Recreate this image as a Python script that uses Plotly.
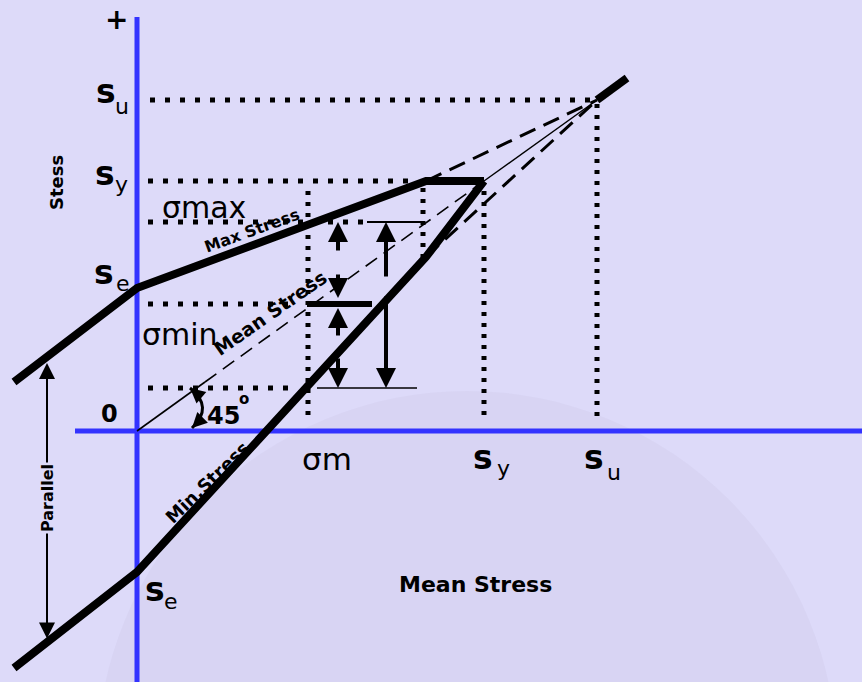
import plotly.graph_objects as go

# ---- Modified Goodman diagram: values in drawing units ----
# Stress-axis (vertical) levels
S_U = 331          # ultimate strength
S_Y = 250          # yield strength
S_E = 143          # endurance limit (max-stress line intercept)
S_E_MIN = -141     # endurance limit (min-stress line intercept)
SIG_MAX = 209
SIG_MEAN = 127
SIG_MIN = 43
MIN_KNEE_S = 174   # where the min-stress line bends
EXT_MAX_S = 49     # left end of the max-stress extension
EXT_MIN_S = -237   # left end of the min-stress extension
TAIL_S = 353       # end of the line beyond S_u

# Mean-stress (horizontal) positions
SU_M = 460
SY_M = 347
SIG_M = 171
KNEE_M = 289       # where max line meets the yield cap
EXT_M = -123
TAIL_M = 490
MEAN_SOLID_END = 68
AMP_SMALL_M = 201  # small amplitude arrows
AMP_BIG_M = 249    # large range arrows

X_RANGE = [-137, 725]
Y_RANGE = [-251, 431]

BG = "#dddaf9"
BLUE = "#3333ff"
FONT = "DejaVu Sans"

fig = go.Figure()


def seg(xs, ys, width, dash="solid", color="black"):
    fig.add_trace(go.Scatter(x=xs, y=ys, mode="lines", hoverinfo="skip",
                             line=dict(color=color, width=width, dash=dash)))


H_DOT = "5px,10px"
V_DOT = "4px,7px"

# faint globe in the background
fig.add_shape(type="circle", xref="x", yref="y", layer="below",
              x0=-40, x1=700, y0=-700, y1=40, line=dict(width=0),
              fillcolor="rgba(150,148,175,0.07)")

# axes
seg([0, 0], [Y_RANGE[0], 414], 5, color=BLUE)
seg([-62, X_RANGE[1]], [0, 0], 5, color=BLUE)

# dotted guides (horizontal)
seg([13, SU_M - 6], [S_U, S_U], 5, H_DOT)
seg([11, KNEE_M - 17], [S_Y, S_Y], 5, H_DOT)
seg([11, 226], [SIG_MAX, SIG_MAX], 5, H_DOT)
seg([11, SIG_M - 11], [SIG_MEAN, SIG_MEAN], 5, H_DOT)
seg([11, SIG_M - 11], [SIG_MIN, SIG_MIN], 5, H_DOT)
# dotted guides (vertical)
seg([SU_M, SU_M], [S_U - 4, 12], 5, V_DOT)
seg([SY_M, SY_M], [S_Y - 10, 11], 5, V_DOT)
seg([SIG_M, SIG_M], [S_Y - 10, 14], 5, V_DOT)
seg([KNEE_M - 3, KNEE_M - 3], [S_Y - 7, MIN_KNEE_S], 5, V_DOT)

# mean-stress line through the origin
seg([0, MEAN_SOLID_END], [0, MEAN_SOLID_END * S_Y / SY_M], 1.6)
seg([MEAN_SOLID_END, SY_M], [MEAN_SOLID_END * S_Y / SY_M, S_Y], 1.6, "14px,8px")
seg([SY_M, SU_M], [S_Y, S_U], 1.4)

# Goodman dashed lines towards S_u
seg([KNEE_M, SU_M], [S_Y, S_U], 3, "17px,9px")
seg([KNEE_M, SU_M], [MIN_KNEE_S, S_U], 3, "17px,9px")

# thin level marks for sigma max / min
seg([230, KNEE_M - 3], [SIG_MAX, SIG_MAX], 2)
seg([180, 280], [SIG_MIN, SIG_MIN], 1.4)
# thick mean level mark
seg([SIG_M - 1, 235], [SIG_MEAN, SIG_MEAN], 6)

# max / min stress boundary lines
seg([EXT_M, 0, KNEE_M, SY_M], [EXT_MAX_S, S_E, S_Y, S_Y], 8)
seg([EXT_M, 0, KNEE_M, SY_M], [EXT_MIN_S, S_E_MIN, MIN_KNEE_S, S_Y], 8)
seg([SU_M, TAIL_M], [S_U, TAIL_S], 8)

ann = []


def arrow(x, y, ax, ay, width=4, size=1.0, side="end", head=2):
    ann.append(dict(x=x, y=y, ax=ax, ay=ay, xref="x", yref="y", axref="x", ayref="y",
                    text="", showarrow=True, arrowhead=head, startarrowhead=head,
                    arrowsize=size, startarrowsize=size,
                    arrowwidth=width, arrowcolor="black", arrowside=side))


# amplitude arrows
arrow(AMP_SMALL_M, SIG_MAX, AMP_SMALL_M, SIG_MAX - 30)
arrow(AMP_SMALL_M, SIG_MEAN + 6, AMP_SMALL_M, SIG_MEAN + 31)
arrow(AMP_SMALL_M, SIG_MEAN - 4, AMP_SMALL_M, SIG_MEAN - 33)
arrow(AMP_SMALL_M, SIG_MIN, AMP_SMALL_M, SIG_MIN + 31)
arrow(AMP_BIG_M, SIG_MAX, AMP_BIG_M, SIG_MAX - 56)
arrow(AMP_BIG_M, SIG_MIN, AMP_BIG_M, SIG_MIN + 93)

# parallel indicator
arrow(-90, 68, -90, -209, width=2, size=1.6, side="end+start")

# 45 degree arc
fig.add_shape(type="path", path="M 53,43 Q 77,24 55,3", xref="x", yref="y",
              line=dict(color="black", width=3))
arrow(53, 43, 60, 37, width=3, size=1.0)
arrow(55, 3, 61, 9, width=3, size=1.0)


def label(x, y, text, size, bold=False, angle=0, bg=None):
    ann.append(dict(x=x, y=y, xref="x", yref="y", text=f"<b>{text}</b>" if bold else text,
                    showarrow=False, textangle=angle, xanchor="center", yanchor="middle",
                    font=dict(family=FONT, size=size, color="black"),
                    bgcolor=bg))


# vertical-axis labels
label(-21, 412, "+", 28, True)
label(-31, S_U + 9, "s", 33, True)
label(-15, S_U - 6, "u", 22)
label(-32, S_Y + 8, "s", 33, True)
label(-16, S_Y - 3, "y", 22)
label(-33, S_E + 16, "s", 33, True)
label(-14, S_E + 5, "e", 22)
label(-28, 17, "0", 24, True)
label(-81, 248, "Stess", 18, True, -90)
label(67, SIG_MAX + 15, "σmax", 30)
label(43, SIG_MIN + 54, "σmin", 30)

# horizontal-axis labels
label(SIG_M + 19, -28, "σm", 31)
label(SY_M - 1, -26, "s", 33, True)
label(SY_M + 19, -37, "y", 22)
label(SU_M - 3, -26, "s", 33, True)
label(SU_M + 17, -41, "u", 22)
label(18, S_E_MIN - 17, "s", 33, True)
label(34, S_E_MIN - 29, "e", 22)
label(338, -153, "Mean Stress", 22, True)

# line labels
label(115, 201, "Max Stress", 16, True, -20)
label(133, 118, "Mean Stress", 19, True, -35)
label(70, -51, "Min.Stress", 18, True, -44)
label(-90, -67, "Parallel", 16, True, -90, bg=BG)
label(86, 15, "45", 24, True)
label(107, 32, "o", 15, True)

fig.update_layout(
    width=862, height=682,
    margin=dict(l=0, r=0, t=0, b=0),
    paper_bgcolor=BG, plot_bgcolor=BG,
    showlegend=False,
    xaxis=dict(range=X_RANGE, visible=False, fixedrange=True),
    yaxis=dict(range=Y_RANGE, visible=False, fixedrange=True),
    annotations=ann,
)

fig.write_html("out.html")
